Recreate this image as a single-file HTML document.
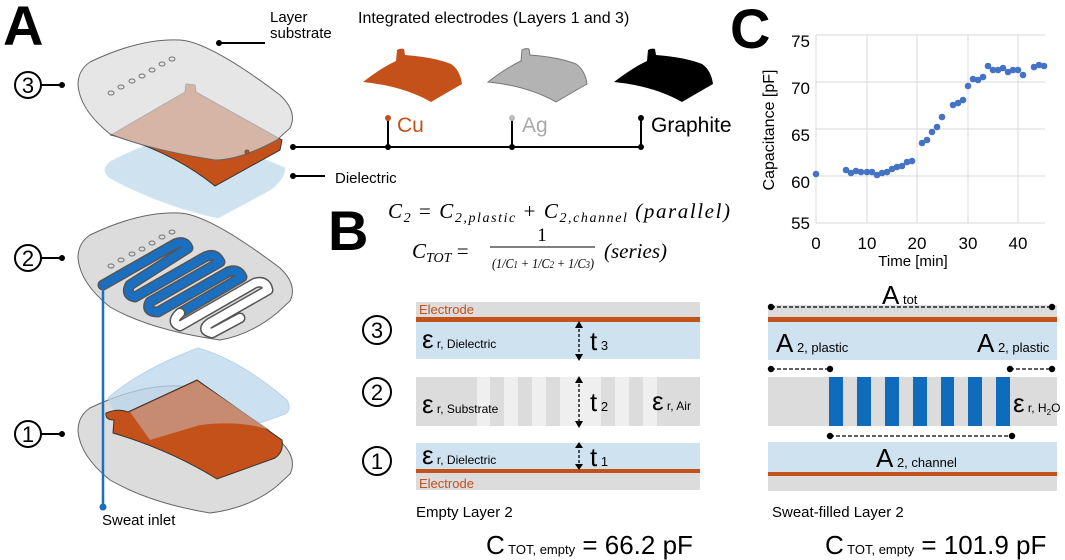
<!DOCTYPE html>
<html><head><meta charset="utf-8"><style>
html,body{margin:0;padding:0;background:#fff}
svg{display:block;font-family:"Liberation Sans",sans-serif}
.m{font-family:"Liberation Serif",serif;font-style:italic}
</style></head><body>
<svg width="1065" height="560" viewBox="0 0 1065 560" xmlns="http://www.w3.org/2000/svg">
<defs>
<path id="el" d="M0,34 Q18,20 33,13 L34,2 Q37,0 41,1 L42,7 Q70,9 88,16 Q97,22 99,36 Q85,44 68,54 Q40,38 0,34 Z"/>
</defs>
<!-- Panel A -->
<text x="3" y="45" font-size="56" font-weight="bold">A</text>
<text x="270" y="22" font-size="15">Layer</text>
<text x="270" y="38" font-size="15">substrate</text>
<line x1="219" y1="43" x2="265" y2="43" stroke="#000" stroke-width="2"/><circle cx="219" cy="43" r="3"/>

<!-- layer 3 -->
<path d="M110,162 Q150,140 200,132 L285,168 Q284,180 270,190 L218,218 Q160,205 110,178 Q100,170 110,162Z" fill="#cfe2f0" stroke="#d7e6f1"/>
<path d="M111,135 L185,92 L186,84 L195,85 L196,92 L282,140 L280,150 L215,186 Q170,150 111,135Z" fill="#c4501a" stroke="#333" stroke-width="1"/>
<path d="M90,62 Q140,38 180,40 Q210,42 280,95 Q298,112 290,128 L277,140 Q240,160 215,160 Q150,150 110,134 Q80,110 78,85 Q78,70 90,62Z" fill="#dcdcdc" fill-opacity="0.72" stroke="#666" stroke-width="1"/>
<g fill="none" stroke="#777" stroke-width="1">
<ellipse cx="111" cy="93" rx="3" ry="2"/><ellipse cx="121" cy="87" rx="3" ry="2"/><ellipse cx="132" cy="81" rx="3" ry="2"/><ellipse cx="142" cy="76" rx="3" ry="2"/><ellipse cx="152" cy="70" rx="3" ry="2"/><ellipse cx="162" cy="64" rx="3" ry="2"/><ellipse cx="172" cy="59" rx="3" ry="2"/></g>
<circle cx="247" cy="152" r="2" fill="#c4501a" stroke="#555"/>
<circle cx="28" cy="85" r="13" fill="none" stroke="#000" stroke-width="2"/><text x="28" y="93" font-size="22" text-anchor="middle">3</text>
<line x1="41" y1="85" x2="62" y2="85" stroke="#000" stroke-width="2"/><circle cx="62" cy="85" r="3"/>
<line x1="293" y1="147" x2="641" y2="147" stroke="#000" stroke-width="2"/><circle cx="293" cy="147" r="3"/>
<line x1="293" y1="176" x2="325" y2="176" stroke="#000" stroke-width="2"/><circle cx="293" cy="176" r="3"/>
<text x="335" y="183" font-size="15">Dielectric</text>

<!-- layer 2 -->
<path d="M90,235 Q140,211 180,213 Q210,215 280,268 Q298,285 290,301 L277,313 Q250,335 220,340 Q150,330 110,307 Q80,283 78,258 Q78,243 90,235Z" fill="#dcdcdc" stroke="#666" stroke-width="1"/>
<g fill="none" stroke="#777" stroke-width="1">
<ellipse cx="111" cy="266" rx="3" ry="2"/><ellipse cx="121" cy="260" rx="3" ry="2"/><ellipse cx="132" cy="254" rx="3" ry="2"/><ellipse cx="142" cy="249" rx="3" ry="2"/><ellipse cx="152" cy="243" rx="3" ry="2"/><ellipse cx="162" cy="237" rx="3" ry="2"/><ellipse cx="172" cy="232" rx="3" ry="2"/></g>
<g fill="none" stroke-linejoin="round" stroke-linecap="round">
<path d="M103,285 L175,244 Q185,240 188,248 L130,285 Q125,295 135,297 L205,257 Q215,252 220,262 L150,302 Q145,312 158,312 L228,272 Q238,268 242,277 L180,313" stroke="#555" stroke-width="11"/>
<path d="M103,285 L175,244 Q185,240 188,248 L130,285 Q125,295 135,297 L205,257 Q215,252 220,262 L150,302 Q145,312 158,312 L228,272 Q238,268 242,277 L180,313" stroke="#1a6fc0" stroke-width="8"/>
<path d="M180,313 Q170,322 180,326 L255,283 Q266,280 268,290 L210,323 Q200,330 212,333 L240,318" stroke="#555" stroke-width="11"/>
<path d="M180,313 Q170,322 180,326 L255,283 Q266,280 268,290 L210,323 Q200,330 212,333 L240,318" stroke="#fff" stroke-width="8"/>
</g>
<circle cx="28" cy="258" r="13" fill="none" stroke="#000" stroke-width="2"/><text x="28" y="266" font-size="22" text-anchor="middle">2</text>
<line x1="41" y1="258" x2="62" y2="258" stroke="#000" stroke-width="2"/><circle cx="62" cy="258" r="3"/>

<!-- layer 1 -->
<path d="M90,408 Q140,384 180,386 Q210,388 280,441 Q298,458 290,474 L277,486 Q250,508 210,513 Q150,503 110,480 Q80,456 78,431 Q78,416 90,408Z" fill="#dcdcdc" stroke="#666" stroke-width="1"/>
<path d="M108,398 Q140,370 198,348 Q240,360 287,400 Q292,410 285,414 L240,430 L120,420Z" fill="#b9d5ec" fill-opacity="0.75" stroke="#bcd3e6"/>
<path d="M106,413 Q118,408 128,412 L197,380 L282,440 Q284,452 275,458 L217,479 Q170,450 113,433 L114,420 Q105,420 106,413Z" fill="#c4501a" stroke="#333" stroke-width="1"/>
<path d="M130,412 L197,381 L270,430 Q240,420 200,425 L150,440Z" fill="#c79a86" fill-opacity="0.8"/>
<circle cx="28" cy="434" r="13" fill="none" stroke="#000" stroke-width="2"/><text x="28" y="442" font-size="22" text-anchor="middle">1</text>
<line x1="41" y1="434" x2="62" y2="434" stroke="#000" stroke-width="2"/><circle cx="62" cy="434" r="3"/>
<line x1="103" y1="285" x2="103" y2="507" stroke="#1a6fc0" stroke-width="2.5"/><circle cx="103" cy="507" r="3.5" fill="#1a6fc0"/>
<text x="102" y="525" font-size="15">Sweat inlet</text>

<!-- electrodes -->
<text x="358" y="23" font-size="16">Integrated electrodes (Layers 1 and 3)</text>
<use href="#el" x="363" y="48" fill="#c4501a"/>
<use href="#el" x="488" y="48" fill="#b3b3b3" stroke="#777"/>
<use href="#el" x="614" y="48" fill="#000"/>
<g stroke="#000" stroke-width="2"><line x1="388" y1="118" x2="388" y2="147"/><line x1="512" y1="118" x2="512" y2="147"/><line x1="641" y1="118" x2="641" y2="147"/></g>
<circle cx="388" cy="118" r="3" fill="#c4501a"/><circle cx="512" cy="118" r="3" fill="#bbb"/><circle cx="641" cy="118" r="3"/>
<circle cx="388" cy="147" r="3"/><circle cx="512" cy="147" r="3"/><circle cx="641" cy="147" r="3"/>
<text x="397" y="132" font-size="21" fill="#c4501a">Cu</text>
<text x="522" y="132" font-size="21" fill="#aaa">Ag</text>
<text x="651" y="132" font-size="21">Graphite</text>

<!-- Panel B -->
<text x="328" y="250" font-size="56" font-weight="bold">B</text>
<text class="m" x="388" y="218" font-size="21" textLength="342" lengthAdjust="spacing">C<tspan font-size="14" dy="4">2</tspan><tspan dy="-4" font-style="normal"> = </tspan>C<tspan font-size="14" dy="4">2,plastic</tspan><tspan dy="-4" font-style="normal"> + </tspan>C<tspan font-size="14" dy="4">2,channel</tspan><tspan dy="-4"> (parallel)</tspan></text>
<text class="m" x="412" y="258" font-size="21">C<tspan font-size="14" dy="4">TOT</tspan><tspan dy="-4" font-style="normal"> =</tspan></text>
<text x="542" y="241" font-size="19" font-family="Liberation Serif" text-anchor="middle">1</text>
<line x1="490" y1="247" x2="595" y2="247" stroke="#000" stroke-width="1"/>
<text class="m" x="492" y="268" font-size="14" textLength="102" lengthAdjust="spacingAndGlyphs">(1/C<tspan font-size="10">1</tspan> + 1/C<tspan font-size="10">2</tspan> + 1/C<tspan font-size="10">3</tspan>)</text>
<text class="m" x="604" y="258" font-size="21">(series)</text>

<!-- empty stack -->
<rect x="416" y="302" width="284" height="16" fill="#dcdcdc"/>
<rect x="416" y="317" width="284" height="5" fill="#c4501a"/>
<rect x="416" y="322" width="284" height="37" fill="#cfe2f0"/>
<text x="419" y="314" font-size="13" fill="#c4501a">Electrode</text>
<rect x="416" y="377" width="284" height="49" fill="#dcdcdc"/>
<g fill="#efefef"><rect x="477" y="377" width="13" height="49"/><rect x="504" y="377" width="14" height="49"/><rect x="532" y="377" width="14" height="49"/><rect x="560" y="377" width="41" height="49"/><rect x="615" y="377" width="14" height="49"/><rect x="643" y="377" width="14" height="49"/></g>
<rect x="416" y="443" width="284" height="26" fill="#cfe2f0"/>
<rect x="416" y="469" width="284" height="4" fill="#c4501a"/>
<rect x="416" y="473" width="284" height="17" fill="#dcdcdc"/>
<text x="419" y="488" font-size="13" fill="#c4501a">Electrode</text>
<g fill="none" stroke="#000" stroke-width="2"><circle cx="377" cy="330" r="14"/><circle cx="377" cy="392" r="14"/><circle cx="377" cy="461" r="14"/></g>
<g font-size="22" text-anchor="middle"><text x="377" y="338">3</text><text x="377" y="400">2</text><text x="377" y="469">1</text></g>
<g font-size="26"><text x="422" y="348">ε<tspan font-size="12"> r, Dielectric</tspan></text>
<text x="422" y="413">ε<tspan font-size="12"> r, Substrate</tspan></text>
<text x="652" y="410">ε<tspan font-size="12"> r, Air</tspan></text>
<text x="422" y="464">ε<tspan font-size="12"> r, Dielectric</tspan></text>
<text x="590" y="350">t<tspan font-size="13"> 3</tspan></text>
<text x="590" y="411">t<tspan font-size="13"> 2</tspan></text>
<text x="590" y="466">t<tspan font-size="13"> 1</tspan></text></g>
<g stroke="#000" stroke-width="1.3" stroke-dasharray="3,2"><line x1="579" y1="324" x2="579" y2="358"/><line x1="579" y1="379" x2="579" y2="425"/><line x1="579" y1="445" x2="579" y2="468"/></g>
<g fill="#000"><path d="M575,328 L579,321 L583,328Z"/><path d="M575,354 L579,361 L583,354Z"/><path d="M575,383 L579,376 L583,383Z"/><path d="M575,421 L579,428 L583,421Z"/><path d="M575,448 L579,442 L583,448Z"/><path d="M575,464 L579,470 L583,464Z"/></g>
<text x="416" y="517" font-size="15">Empty Layer 2</text>
<text x="486" y="554" font-size="26">C<tspan font-size="13"> TOT, empty</tspan> = 66.2 pF</text>

<!-- filled stack -->
<rect x="768" y="305" width="289" height="12" fill="#dcdcdc"/>
<rect x="768" y="317" width="289" height="5" fill="#c4501a"/>
<rect x="768" y="322" width="289" height="38" fill="#cfe2f0"/>
<rect x="768" y="377" width="289" height="49" fill="#dcdcdc"/>
<g fill="#0f6cbd"><rect x="829" y="377" width="14" height="49"/><rect x="857" y="377" width="14" height="49"/><rect x="885" y="377" width="14" height="49"/><rect x="913" y="377" width="14" height="49"/><rect x="941" y="377" width="13" height="49"/><rect x="968" y="377" width="14" height="49"/><rect x="996" y="377" width="14" height="49"/></g>
<rect x="768" y="442" width="289" height="30" fill="#cfe2f0"/>
<rect x="768" y="472" width="289" height="4" fill="#c4501a"/>
<rect x="768" y="476" width="289" height="15" fill="#dcdcdc"/>
<g stroke="#000" stroke-width="1.3" stroke-dasharray="4,2"><line x1="771" y1="307" x2="1052" y2="307"/><line x1="771" y1="369" x2="830" y2="369"/><line x1="1010" y1="369" x2="1052" y2="369"/><line x1="830" y1="436" x2="1012" y2="436"/></g>
<g><circle cx="771" cy="307" r="3.2"/><circle cx="1052" cy="307" r="3.2"/><circle cx="771" cy="369" r="3.2"/><circle cx="830" cy="369" r="3.2"/><circle cx="1010" cy="369" r="3.2"/><circle cx="1052" cy="369" r="3.2"/><circle cx="830" cy="436" r="3.2"/><circle cx="1012" cy="436" r="3.2"/></g>
<g font-size="26"><text x="882" y="304">A<tspan font-size="13"> tot</tspan></text>
<text x="776" y="352">A<tspan font-size="13"> 2, plastic</tspan></text>
<text x="977" y="352">A<tspan font-size="13"> 2, plastic</tspan></text>
<text x="876" y="467">A<tspan font-size="13"> 2, channel</tspan></text>
<text x="1013" y="412">ε<tspan font-size="12"> r, H<tspan font-size="8" dy="3">2</tspan><tspan dy="-3">O</tspan></tspan></text></g>
<text x="772" y="517" font-size="15">Sweat-filled Layer 2</text>
<text x="825" y="554" font-size="26">C<tspan font-size="13"> TOT, empty</tspan> = 101.9 pF</text>

<!-- Panel C -->
<text x="730" y="48" font-size="56" font-weight="bold">C</text>
<g stroke="#d9d9d9" stroke-width="1"><line x1="816" y1="35" x2="1045" y2="35"/><line x1="816" y1="82" x2="1045" y2="82"/><line x1="816" y1="129" x2="1045" y2="129"/><line x1="816" y1="176" x2="1045" y2="176"/>
<line x1="867" y1="35" x2="867" y2="223"/><line x1="917" y1="35" x2="917" y2="223"/><line x1="968" y1="35" x2="968" y2="223"/><line x1="1018" y1="35" x2="1018" y2="223"/>
<line x1="816" y1="35" x2="816" y2="223"/><line x1="816" y1="223" x2="1045" y2="223"/></g>
<g font-size="17" text-anchor="end"><text x="810" y="47">75</text><text x="810" y="94">70</text><text x="810" y="141">65</text><text x="810" y="188">60</text><text x="810" y="229">55</text></g>
<g font-size="17" text-anchor="middle"><text x="816" y="249">0</text><text x="867" y="249">10</text><text x="917" y="249">20</text><text x="968" y="249">30</text><text x="1018" y="249">40</text></g>
<text x="913" y="266" font-size="15" text-anchor="middle">Time [min]</text>
<text transform="translate(774,130) rotate(-90)" font-size="16" text-anchor="middle">Capacitance [pF]</text>
<g fill="#4472c4">
<circle cx="816" cy="174" r="3.3"/><circle cx="846" cy="170" r="3.3"/><circle cx="851" cy="173" r="3.3"/><circle cx="856" cy="171" r="3.3"/><circle cx="861" cy="172" r="3.3"/><circle cx="867" cy="172" r="3.3"/><circle cx="872" cy="172" r="3.3"/><circle cx="877" cy="175" r="3.3"/><circle cx="882" cy="173" r="3.3"/><circle cx="887" cy="172" r="3.3"/><circle cx="892" cy="169" r="3.3"/><circle cx="897" cy="167" r="3.3"/><circle cx="902" cy="166" r="3.3"/><circle cx="907" cy="162" r="3.3"/><circle cx="912" cy="161" r="3.3"/><circle cx="922" cy="143" r="3.3"/><circle cx="927" cy="140" r="3.3"/><circle cx="932" cy="132" r="3.3"/><circle cx="937" cy="127" r="3.3"/><circle cx="942" cy="117" r="3.3"/><circle cx="953" cy="105" r="3.3"/><circle cx="958" cy="103" r="3.3"/><circle cx="963" cy="100" r="3.3"/><circle cx="968" cy="86" r="3.3"/><circle cx="973" cy="79" r="3.3"/><circle cx="978" cy="80" r="3.3"/><circle cx="983" cy="77" r="3.3"/><circle cx="988" cy="66" r="3.3"/><circle cx="993" cy="70" r="3.3"/><circle cx="998" cy="70" r="3.3"/><circle cx="1003" cy="68" r="3.3"/><circle cx="1008" cy="72" r="3.3"/><circle cx="1013" cy="70" r="3.3"/><circle cx="1018" cy="70" r="3.3"/><circle cx="1023" cy="75" r="3.3"/><circle cx="1034" cy="67" r="3.3"/><circle cx="1039" cy="65" r="3.3"/><circle cx="1044" cy="66" r="3.3"/>
</g>
</svg>
</body></html>
